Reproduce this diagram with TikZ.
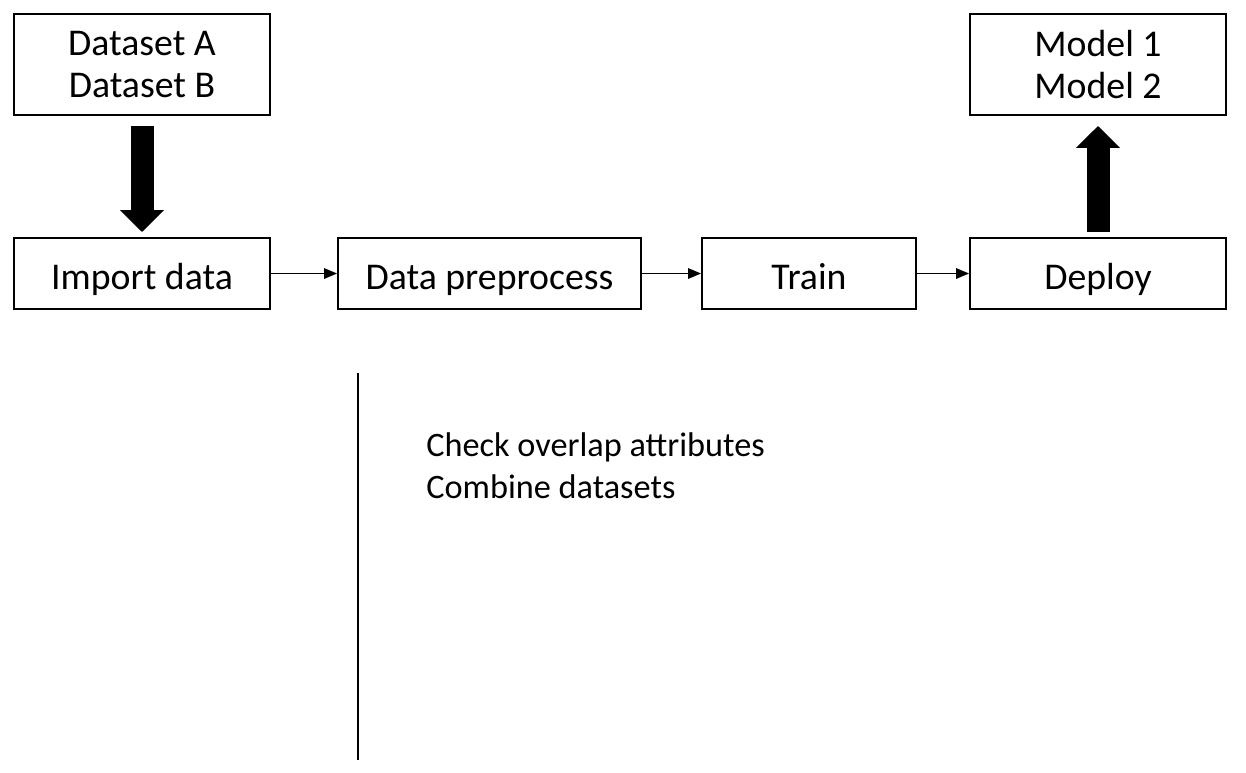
\documentclass[tikz,border=0pt]{standalone}
\usepackage{fontspec}
\setmainfont{Carlito}
\usetikzlibrary{arrows.meta}

\tikzset{
  stagebox/.style={draw, line width=1.1pt, minimum height=1.42cm, inner sep=0pt, align=center, font=\fontsize{21.5}{24}\selectfont},
  onerow/.style={text height=19.5pt, text depth=1pt},
  flow/.style={line width=0.9pt, -{Triangle[length=2.6mm, width=2.1mm]}},
  bigflow/.style={line width=0.46cm, -{Triangle[length=0.44cm, width=0.86cm]}}
}

\begin{document}
\begin{tikzpicture}[x=0.02cm, y=-0.02cm]
            \useasboundingbox (0,0) rectangle (1246,772);

            \node[stagebox, minimum width=5.12cm, minimum height=2.02cm] (datasets) at (142,64.5) {Dataset A\\Dataset B};
            \node[stagebox, minimum width=5.12cm, minimum height=2.02cm] (models) at (1098,64.5) {Model 1\\Model 2};

            \node[stagebox, onerow, minimum width=5.12cm] (import) at (142,273.5) {Import data};
            \node[stagebox, onerow, minimum width=6.06cm] (prep) at (489.5,273.5) {Data preprocess};
            \node[stagebox, onerow, minimum width=4.28cm] (train) at (809,273.5) {Train};
            \node[stagebox, onerow, minimum width=5.12cm] (deploy) at (1098,273.5) {Deploy};

            \draw[flow] (import) -- (prep);
            \draw[flow] (prep) -- (train);
            \draw[flow] (train) -- (deploy);

            \draw[bigflow, shorten <=0.2cm, shorten >=0.1cm] (datasets.south) -- (import.north);
            \draw[bigflow, shorten <=0.1cm, shorten >=0.2cm] (deploy.north) -- (models.south);

            \coordinate (sepTop) at (358,373);
            \coordinate (sepBot) at (358,760);
            \draw[line width=1.1pt] (sepTop) -- (sepBot);

            \node[anchor=west, align=left, inner sep=0pt, font=\fontsize{19.5}{24}\selectfont] (notes) at (426,466)
                {Check overlap attributes\\Combine datasets};
        \end{tikzpicture}
\end{document}
